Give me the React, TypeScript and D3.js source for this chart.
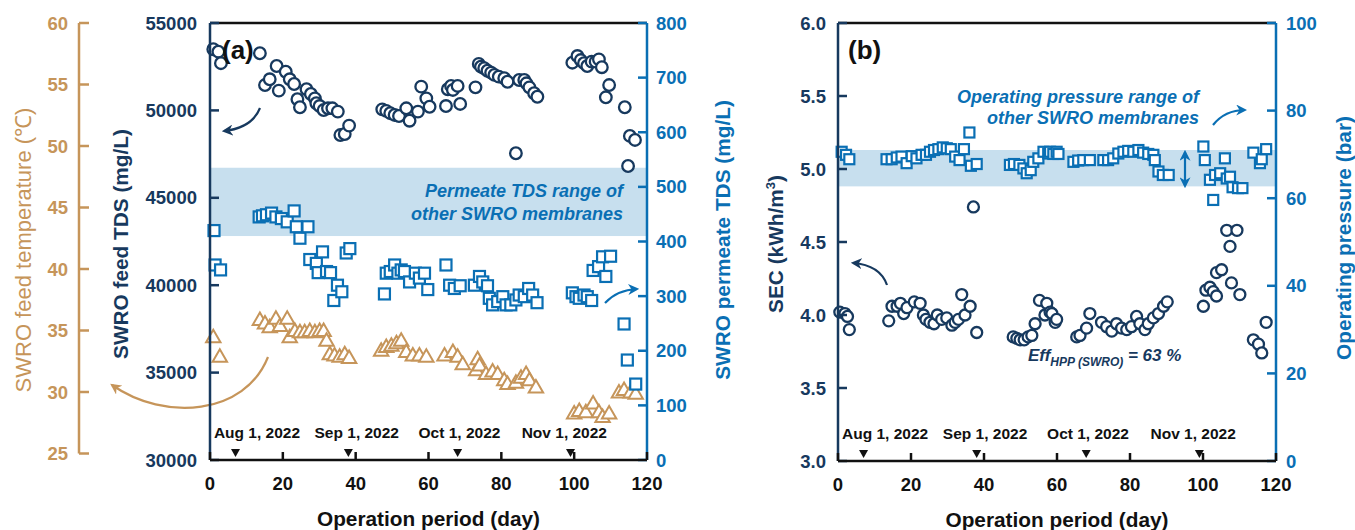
import React from "react";
import * as d3 from "d3";

// ---------- DATA ----------
const feedTds: [number, number][] = [
  [0.9, 53500], [2.3, 53360], [3.0, 52700],
  [13.7, 53270], [15.1, 51450], [16.4, 51780], [18.3, 52540], [18.9, 51130], [20.8, 52210], [21.9, 51780], [23.1, 51510], [24.0, 50640], [24.7, 50180], [26.5, 51210], [27.7, 50940], [28.8, 50690], [29.2, 50410], [30.1, 50250], [31.2, 50020], [32.4, 50120], [33.6, 50120], [35.1, 49930], [35.8, 48590], [37.0, 48650], [38.2, 49130],
  [47.3, 50060], [48.4, 49970], [49.5, 49840], [50.7, 49740], [51.9, 49680], [53.9, 50120], [54.8, 49410], [57.1, 49930], [58.0, 51360], [59.4, 50690], [60.3, 50210],
  [64.8, 50250], [65.3, 51210], [66.2, 51400], [66.7, 51170], [68.0, 51400], [68.7, 50370], [72.9, 51320], [73.8, 52660], [74.4, 52500], [75.3, 52410], [76.2, 52270], [77.2, 52160], [78.1, 52030], [79.3, 51930], [80.8, 51840], [81.7, 51640], [84.0, 47550], [84.9, 51740], [86.3, 51740], [86.9, 51550], [87.7, 51320], [89.0, 50980], [89.9, 50780],
  [99.5, 52730], [100.9, 53110], [101.8, 52880], [102.7, 52700], [103.6, 52540], [104.8, 52790], [105.9, 52790], [106.8, 52920], [107.6, 52470], [108.7, 50750], [109.6, 51450], [113.9, 50180], [114.8, 46820], [115.3, 48540], [116.7, 48310],
];

const permTds: [number, number][] = [
  [1.1, 420], [1.4, 357], [2.9, 348],
  [13.5, 445], [14.4, 447], [15.5, 449], [16.9, 452], [18.1, 445], [19.6, 442], [21.2, 436], [23.1, 456], [23.7, 427], [24.7, 406], [26.9, 427], [27.4, 367], [29.2, 360], [29.7, 343], [30.9, 381], [32.0, 345], [33.1, 343], [34.0, 292], [35.0, 320], [36.2, 308], [37.4, 379], [38.4, 387],
  [47.9, 304], [48.4, 342], [49.5, 345], [50.7, 357], [51.6, 342], [52.5, 348], [53.4, 345], [54.8, 326], [56.4, 342], [57.5, 333], [58.9, 342], [59.8, 312],
  [64.8, 357], [65.8, 320], [67.1, 314], [68.7, 319], [72.6, 320], [74.0, 336], [74.9, 326], [76.2, 319], [76.7, 296], [77.6, 284], [79.0, 290], [80.4, 299], [81.3, 284], [82.6, 284], [84.0, 293], [84.9, 302], [86.3, 299], [87.5, 314], [88.6, 302], [89.8, 288],
  [99.5, 306], [100.5, 299], [101.4, 296], [102.7, 302], [103.6, 299], [104.8, 292], [105.2, 347], [106.7, 354], [107.8, 372], [108.7, 336], [110.0, 373], [113.7, 249], [114.6, 183], [116.9, 139],
];

const feedTemp: [number, number][] = [
  [0.9, 34.5], [2.7, 32.9],
  [13.7, 35.9], [15.1, 35.6], [16.4, 35.3], [18.1, 36.0], [19.2, 35.4], [21.2, 36.0], [21.9, 34.5], [23.3, 35.0], [24.7, 34.9], [26.0, 34.9], [27.4, 35.0], [28.8, 34.9], [30.1, 35.0], [31.2, 35.0], [32.0, 34.2], [32.9, 33.1], [34.2, 33.0], [35.6, 32.9], [37.0, 33.1], [38.2, 32.8],
  [47.0, 33.4], [48.4, 33.7], [49.8, 33.8], [51.2, 34.0], [52.5, 34.2], [53.9, 33.3], [55.7, 33.0], [57.5, 33.0], [59.4, 32.9],
  [64.4, 33.0], [66.7, 33.3], [68.0, 32.9], [69.4, 32.3], [73.1, 31.8], [73.5, 32.7], [74.0, 32.2], [75.8, 31.5], [77.6, 31.7], [79.0, 31.5], [80.8, 31.0], [81.7, 30.7], [84.0, 30.8], [85.4, 31.2], [86.8, 31.5], [87.7, 31.0], [89.5, 30.4],
  [100.0, 28.3], [101.4, 28.5], [103.2, 28.4], [105.2, 29.1], [106.8, 28.4], [107.8, 28.0], [109.6, 28.3], [112.3, 30.0], [113.7, 30.2], [115.5, 30.0], [116.9, 29.9],
];

const secData: [number, number][] = [
  [0.5, 4.02], [1.9, 4.01], [2.6, 3.99], [3.1, 3.90],
  [13.9, 3.96], [14.8, 4.06], [16.2, 4.06], [17.1, 4.08], [18.0, 4.01], [18.9, 4.05], [20.9, 4.09], [22.5, 4.08], [23.4, 4.00], [24.1, 3.97], [25.2, 3.95], [26.3, 3.94], [27.2, 4.00], [28.4, 3.97], [29.8, 3.98], [31.2, 3.93], [32.1, 3.95], [33.0, 3.97], [33.9, 4.14], [34.8, 4.00], [36.2, 4.06], [37.1, 4.74], [38.0, 3.88],
  [48.0, 3.85], [49.0, 3.84], [49.9, 3.83], [51.0, 3.83], [52.1, 3.85], [53.1, 3.86], [54.0, 3.94], [55.2, 4.10], [56.7, 4.00], [57.2, 4.08], [58.1, 4.02], [58.6, 4.01], [59.5, 3.95], [59.9, 3.97],
  [65.4, 3.85], [66.3, 3.86], [68.1, 3.91], [69.0, 4.01], [72.2, 3.95], [73.6, 3.92], [75.0, 3.89], [76.3, 3.94], [77.7, 3.91], [79.1, 3.90], [80.4, 3.92], [81.8, 3.99], [82.7, 3.94], [84.1, 3.90], [85.0, 3.94], [86.4, 3.98], [87.8, 4.01], [89.2, 4.06], [90.2, 4.09],
  [100.1, 4.06], [100.8, 4.17], [101.9, 4.19], [102.8, 4.16], [103.7, 4.13], [103.7, 4.29], [105.1, 4.31], [106.5, 4.58], [107.4, 4.47], [107.8, 4.22], [109.3, 4.58], [110.1, 4.14], [113.8, 3.83], [115.2, 3.80], [116.1, 3.74], [117.3, 3.95],
];

const pressData: [number, number][] = [
  [1.0, 70.6], [2.2, 69.9], [3.1, 68.9],
  [13.3, 68.9], [14.7, 68.9], [16.1, 69.3], [17.4, 69.5], [18.8, 68.0], [20.2, 69.6], [21.5, 69.1], [22.9, 69.9], [24.1, 69.9], [25.2, 70.6], [26.3, 71.0], [27.5, 71.2], [28.7, 71.6], [29.8, 71.4], [30.9, 71.2], [32.1, 69.5], [33.3, 68.7], [34.5, 71.2], [36.0, 75.0], [36.4, 67.4], [38.0, 67.8],
  [47.1, 67.6], [48.2, 67.8], [49.7, 67.6], [50.8, 66.8], [51.7, 65.7], [52.8, 66.4], [53.5, 68.3], [54.9, 69.1], [56.3, 70.6], [57.6, 70.2], [58.1, 70.6], [59.0, 70.1], [59.9, 70.6], [60.4, 70.1],
  [64.5, 68.3], [65.8, 68.6], [67.2, 68.7], [69.0, 68.7], [72.7, 68.7], [74.0, 68.7], [75.4, 69.1], [76.8, 70.2], [78.2, 70.6], [79.5, 70.8], [80.9, 70.6], [82.3, 71.0], [83.6, 70.4], [85.0, 70.1], [86.4, 69.9], [86.8, 68.7], [87.8, 66.1], [89.0, 65.3], [90.6, 65.3],
  [100.1, 71.8], [100.5, 68.7], [101.9, 64.2], [102.8, 59.6], [103.3, 65.3], [104.7, 65.7], [106.0, 69.1], [106.5, 64.5], [107.4, 64.9], [108.1, 62.5], [109.6, 62.3], [110.8, 62.3], [113.8, 70.4], [115.6, 68.0], [116.1, 68.9], [117.3, 71.2],
];

const xTicks = [0, 20, 40, 60, 80, 100, 120];
const tdsTicks = [30000, 35000, 40000, 45000, 50000, 55000];
const tempTicks = [25, 30, 35, 40, 45, 50, 55, 60];
const permTicks = [0, 100, 200, 300, 400, 500, 600, 700, 800];
const secTicks = [3.0, 3.5, 4.0, 4.5, 5.0, 5.5, 6.0];
const pressTicks = [0, 20, 40, 60, 80, 100];
const dateLabels = ["Aug 1, 2022", "Sep 1, 2022", "Oct 1, 2022", "Nov 1, 2022"];
const dateDays = [7, 38, 68, 99];
const dateLabelDays = [12.9, 40.3, 68.5, 97.3];
const permBand: [number, number] = [410, 535];
const pressBand: [number, number] = [62.7, 71];

// ---------- STYLE ----------
const NAVY = "#17395E";
const BLUE = "#0A6FB4";
const TAN = "#C6955A";
const BAND = "#C7DFEE";
const FONT = "'Liberation Sans', Arial, sans-serif";
const TITLE = 20.8;

function DateMarks({ x, yBase }: { x: d3.ScaleLinear<number, number>; yBase: number }) {
  return (
    <g>
      {dateDays.map((d, i) => (
        <g key={i}>
          <text x={x(dateLabelDays[i])} y={yBase - 22} textAnchor="middle" fontSize={15.5} fontWeight="bold" fontFamily={FONT} fill="#111">
            {dateLabels[i]}
          </text>
          <path d={`M${x(d) - 4.5},${yBase - 11} L${x(d) + 4.5},${yBase - 11} L${x(d)},${yBase - 3} Z`} fill="#111" />
        </g>
      ))}
    </g>
  );
}

function XAxis({ x, y, title }: { x: d3.ScaleLinear<number, number>; y: number; title: string }) {
  const [a, b] = x.range();
  return (
    <g>
      <line x1={a} x2={b} y1={y} y2={y} stroke="#111" strokeWidth={2.5} />
      {xTicks.map((t) => (
        <g key={t}>
          <line x1={x(t)} x2={x(t)} y1={y} y2={y - 8} stroke="#111" strokeWidth={2.5} />
          <text x={x(t)} y={y + 30} textAnchor="middle" fontSize={18.5} fontWeight="bold" fontFamily={FONT} fill="#111">
            {t}
          </text>
        </g>
      ))}
      <text x={(a + b) / 2} y={y + 66} textAnchor="middle" fontSize={TITLE} fontWeight="bold" fontFamily={FONT} fill="#111">
        {title}
      </text>
    </g>
  );
}

export default function App() {
  // panel (a)
  const xa = d3.scaleLinear().domain([0, 120]).range([210, 647]);
  const yTds = d3.scaleLinear().domain([30000, 55000]).range([460, 23]);
  const yPerm = d3.scaleLinear().domain([0, 800]).range([460, 23]);
  const yTemp = d3.scaleLinear().domain([25, 60]).range([453.5, 23]);
  // panel (b)
  const xb = d3.scaleLinear().domain([0, 120]).range([838, 1276]);
  const ySec = d3.scaleLinear().domain([3, 6]).range([461, 23]);
  const yPres = d3.scaleLinear().domain([0, 100]).range([461, 23]);

  const tri = "M0,-7 L7.2,5.5 L-7.2,5.5 Z";

  return (
    <svg width={1355} height={530} style={{ position: "absolute", left: 0, top: 0, background: "#fff" }}>
      <defs>
        {[["navy", NAVY], ["blue", BLUE], ["tan", TAN]].map(([k, c]) => (
          <marker key={k} id={`ah-${k}`} viewBox="0 0 10 10" refX="8" refY="5" markerWidth="11" markerHeight="11" markerUnits="userSpaceOnUse" orient="auto-start-reverse">
            <path d="M0,0 L10,5 L0,10 L3,5 Z" fill={c} />
          </marker>
        ))}
      </defs>

      {/* ================= PANEL A ================= */}
      <rect x={xa(0)} width={xa(120) - xa(0)} y={yPerm(permBand[1])} height={yPerm(permBand[0]) - yPerm(permBand[1])} fill={BAND} />
      <text x={623} y={197} textAnchor="end" fontSize={18} fontWeight="bold" fontStyle="italic" fontFamily={FONT} fill={BLUE}>Permeate TDS range of</text>
      <text x={623} y={220} textAnchor="end" fontSize={18} fontWeight="bold" fontStyle="italic" fontFamily={FONT} fill={BLUE}>other SWRO membranes</text>

      <line x1={xa(0)} x2={xa(120)} y1={23} y2={23} stroke="#111" strokeWidth={2.5} />
      <DateMarks x={xa} yBase={460} />

      {feedTemp.map(([d, v], i) => (
        <path key={i} d={tri} transform={`translate(${xa(d)},${yTemp(v)})`} fill="white" stroke={TAN} strokeWidth={2} />
      ))}
      {permTds.map(([d, v], i) => (
        <rect key={i} x={xa(d) - 5.5} y={yPerm(v) - 5.5} width={11} height={11} fill="white" stroke={BLUE} strokeWidth={2.2} />
      ))}
      {feedTds.map(([d, v], i) => (
        <circle key={i} cx={xa(d)} cy={yTds(v)} r={5.8} fill="white" stroke={NAVY} strokeWidth={2.3} />
      ))}

      <text x={222} y={59} fontSize={26} fontWeight="bold" fontFamily={FONT} fill="#111">(a)</text>

      {/* arrows a */}
      <path d="M260,108 Q252,128 224,131" fill="none" stroke={NAVY} strokeWidth={2.2} markerEnd="url(#ah-navy)" />
      <path d="M268,357 C245,415 165,422 112,385" fill="none" stroke={TAN} strokeWidth={2.2} markerEnd="url(#ah-tan)" />
      <path d="M605,303 Q617,290 637,289" fill="none" stroke={BLUE} strokeWidth={2.2} markerEnd="url(#ah-blue)" />

      {/* left TDS axis */}
      <line x1={210} x2={210} y1={23} y2={460} stroke={NAVY} strokeWidth={2.5} />
      {tdsTicks.map((t) => (
        <g key={t}>
          <line x1={210} x2={219} y1={yTds(t)} y2={yTds(t)} stroke={NAVY} strokeWidth={2.5} />
          <text x={197} y={yTds(t) + 6.5} textAnchor="end" fontSize={18.5} fontWeight="bold" fontFamily={FONT} fill={NAVY}>{t}</text>
        </g>
      ))}
      <text transform="translate(128,244) rotate(-90)" textAnchor="middle" fontSize={TITLE} fontWeight="bold" fontFamily={FONT} fill={NAVY}>SWRO feed TDS (mg/L)</text>

      {/* temperature axis */}
      <line x1={79} x2={79} y1={yTemp(60)} y2={yTemp(25)} stroke={TAN} strokeWidth={2.5} />
      {tempTicks.map((t) => (
        <g key={t}>
          <line x1={79} x2={89} y1={yTemp(t)} y2={yTemp(t)} stroke={TAN} strokeWidth={2.5} />
          <text x={68} y={yTemp(t) + 6.5} textAnchor="end" fontSize={18.5} fontWeight="bold" fontFamily={FONT} fill={TAN}>{t}</text>
        </g>
      ))}
      <text transform="translate(31,250) rotate(-90)" textAnchor="middle" fontSize={22} fontFamily={FONT} fill={TAN}>SWRO feed temperature (℃)</text>

      {/* right permeate axis */}
      <line x1={647} x2={647} y1={23} y2={460} stroke={BLUE} strokeWidth={2.5} />
      {permTicks.map((t) => (
        <g key={t}>
          <line x1={638} x2={647} y1={yPerm(t)} y2={yPerm(t)} stroke={BLUE} strokeWidth={2.5} />
          <text x={656} y={yPerm(t) + 6.5} textAnchor="start" fontSize={18.5} fontWeight="bold" fontFamily={FONT} fill={BLUE}>{t}</text>
        </g>
      ))}
      <text transform="translate(730,240) rotate(-90)" textAnchor="middle" fontSize={TITLE} fontWeight="bold" fontFamily={FONT} fill={BLUE}>SWRO permeate TDS (mg/L)</text>

      <XAxis x={xa} y={460} title="Operation period (day)" />

      {/* ================= PANEL B ================= */}
      <rect x={xb(0)} width={xb(120) - xb(0)} y={yPres(pressBand[1])} height={yPres(pressBand[0]) - yPres(pressBand[1])} fill={BAND} />
      <text x={1199} y={103} textAnchor="end" fontSize={18} fontWeight="bold" fontStyle="italic" fontFamily={FONT} fill={BLUE}>Operating pressure range of</text>
      <text x={1199} y={124} textAnchor="end" fontSize={18} fontWeight="bold" fontStyle="italic" fontFamily={FONT} fill={BLUE}>other SWRO membranes</text>

      <line x1={xb(0)} x2={xb(120)} y1={23} y2={23} stroke="#111" strokeWidth={2.5} />
      <DateMarks x={xb} yBase={461} />

      {pressData.map(([d, v], i) => (
        <rect key={i} x={xb(d) - 5} y={yPres(v) - 5} width={10} height={10} fill="white" stroke={BLUE} strokeWidth={2.2} />
      ))}
      {secData.map(([d, v], i) => (
        <circle key={i} cx={xb(d)} cy={ySec(v)} r={5.5} fill="white" stroke={NAVY} strokeWidth={2.3} />
      ))}

      <text x={848} y={59} fontSize={26} fontWeight="bold" fontFamily={FONT} fill="#111">(b)</text>

      <text x={1028} y={361} fontSize={17} fontWeight="bold" fontStyle="italic" fontFamily={FONT} fill={NAVY}>
        Eff<tspan fontSize={12} dy={5}>HPP (SWRO)</tspan><tspan dy={-5}> = 63 %</tspan>
      </text>

      {/* arrows b */}
      <path d="M887,285 Q880,265 853,263" fill="none" stroke={NAVY} strokeWidth={2.2} markerEnd="url(#ah-navy)" />
      <path d="M1213,125 Q1225,110 1245,110" fill="none" stroke={BLUE} strokeWidth={2.2} markerEnd="url(#ah-blue)" />
      <path d="M1185,152 L1185,186" fill="none" stroke={BLUE} strokeWidth={2.2} markerStart="url(#ah-blue)" markerEnd="url(#ah-blue)" />

      {/* left SEC axis */}
      <line x1={838} x2={838} y1={23} y2={461} stroke={NAVY} strokeWidth={2.5} />
      {secTicks.map((t) => (
        <g key={t}>
          <line x1={838} x2={847} y1={ySec(t)} y2={ySec(t)} stroke={NAVY} strokeWidth={2.5} />
          <text x={826} y={ySec(t) + 6.5} textAnchor="end" fontSize={18.5} fontWeight="bold" fontFamily={FONT} fill={NAVY}>{t.toFixed(1)}</text>
        </g>
      ))}
      <text transform="translate(783,244) rotate(-90)" textAnchor="middle" fontSize={TITLE} fontWeight="bold" fontFamily={FONT} fill={NAVY}>
        SEC (kWh/m<tspan fontSize={13} dy={-8}>3</tspan><tspan dy={8}>)</tspan>
      </text>

      {/* right pressure axis */}
      <line x1={1276} x2={1276} y1={23} y2={461} stroke={BLUE} strokeWidth={2.5} />
      {pressTicks.map((t) => (
        <g key={t}>
          <line x1={1267} x2={1276} y1={yPres(t)} y2={yPres(t)} stroke={BLUE} strokeWidth={2.5} />
          <text x={1286} y={yPres(t) + 6.5} textAnchor="start" fontSize={18.5} fontWeight="bold" fontFamily={FONT} fill={BLUE}>{t}</text>
        </g>
      ))}
      <text transform="translate(1351,238) rotate(-90)" textAnchor="middle" fontSize={TITLE} fontWeight="bold" fontFamily={FONT} fill={BLUE}>Operating pressure (bar)</text>

      <XAxis x={xb} y={461} title="Operation period (day)" />
    </svg>
  );
}
